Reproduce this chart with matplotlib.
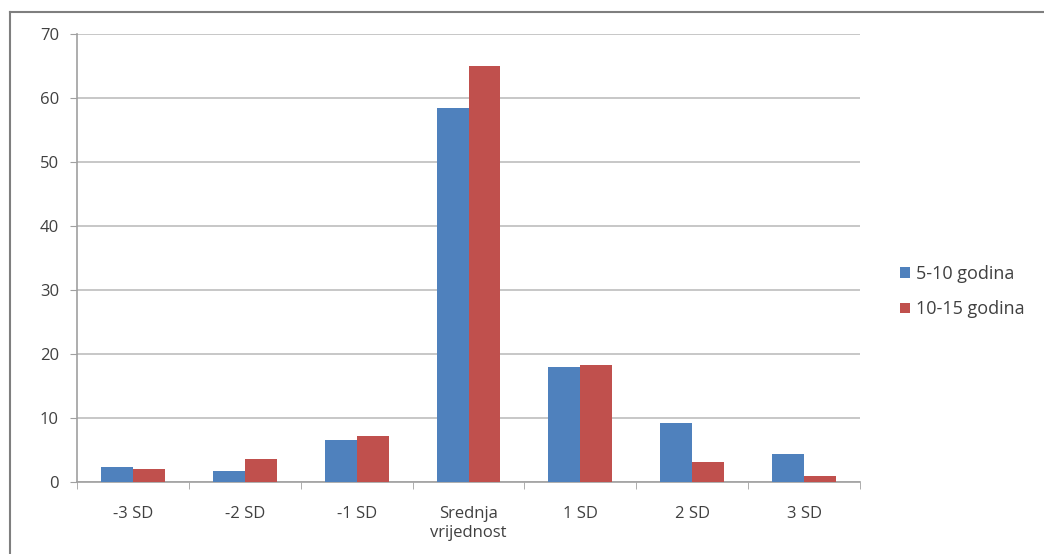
import matplotlib
matplotlib.use("Agg")
import matplotlib.pyplot as plt
from matplotlib.lines import Line2D
import numpy as np

categories = ["-3 SD", "-2 SD", "-1 SD", "Srednja\nvrijednost", "1 SD", "2 SD", "3 SD"]
series_names = ["5-10 godina", "10-15 godina"]
values_5_10 = [2.4, 1.7, 6.6, 58.4, 18.0, 9.2, 4.4]
values_10_15 = [2.1, 3.6, 7.2, 65.0, 18.3, 3.2, 0.9]
yticks = [0, 10, 20, 30, 40, 50, 60, 70]
colors = ["#4F81BD", "#C0504D"]

plt.rcParams['font.family'] = ['Open Sans', 'DejaVu Sans']

W, H = 1044, 554
fig = plt.figure(figsize=(W / 100, H / 100), dpi=100)
ax = fig.add_axes([77 / W, 1 - 482 / H, (860 - 77) / W, (482 - 34) / H])

x = np.arange(len(categories))
bw = 1 / 3.5
ax.bar(x - bw / 2, values_5_10, width=bw, color=colors[0], label=series_names[0], zorder=3)
ax.bar(x + bw / 2, values_10_15, width=bw, color=colors[1], label=series_names[1], zorder=3)

ax.set_xlim(-0.5, len(categories) - 0.5)
ax.set_ylim(0, 70)
ax.set_yticks(yticks)
ax.set_yticklabels([str(t) for t in yticks], fontsize=12, color="#404040")
ax.set_xticks(x)
ax.set_xticklabels(categories, fontsize=12, color="#404040", linespacing=1.25)
ax.tick_params(axis='x', length=0, pad=17)
ax.tick_params(axis='y', length=5, color="#A0A0A0", pad=8)
ax.set_xticks(np.arange(-0.5, len(categories), 1), minor=True)
ax.tick_params(axis='x', which='minor', length=5, color="#A0A0A0")

ax.grid(axis='y', color="#BEBEBE", linewidth=1.2, zorder=0)
for s in ["top", "right"]:
    ax.spines[s].set_visible(False)
for s in ["left", "bottom"]:
    ax.spines[s].set_color("#A0A0A0")
    ax.spines[s].set_linewidth(1.2)

leg = fig.legend(loc="upper left", bbox_to_anchor=(884 / W, 1 - 249 / H), frameon=False,
                 fontsize=13, handlelength=0.55, handleheight=0.55, handletextpad=0.35,
                 labelspacing=0.95)
for t in leg.get_texts():
    t.set_color("#404040")

# outer chart frame
fig.add_artist(Line2D([10 / W, 10 / W], [0, 1 - 12 / H], transform=fig.transFigure,
                      color="#7F7F7F", linewidth=1.5))
fig.add_artist(Line2D([10 / W, 1], [1 - 12 / H, 1 - 12 / H], transform=fig.transFigure,
                      color="#7F7F7F", linewidth=1.5))

fig.savefig("out.png", dpi=100)
